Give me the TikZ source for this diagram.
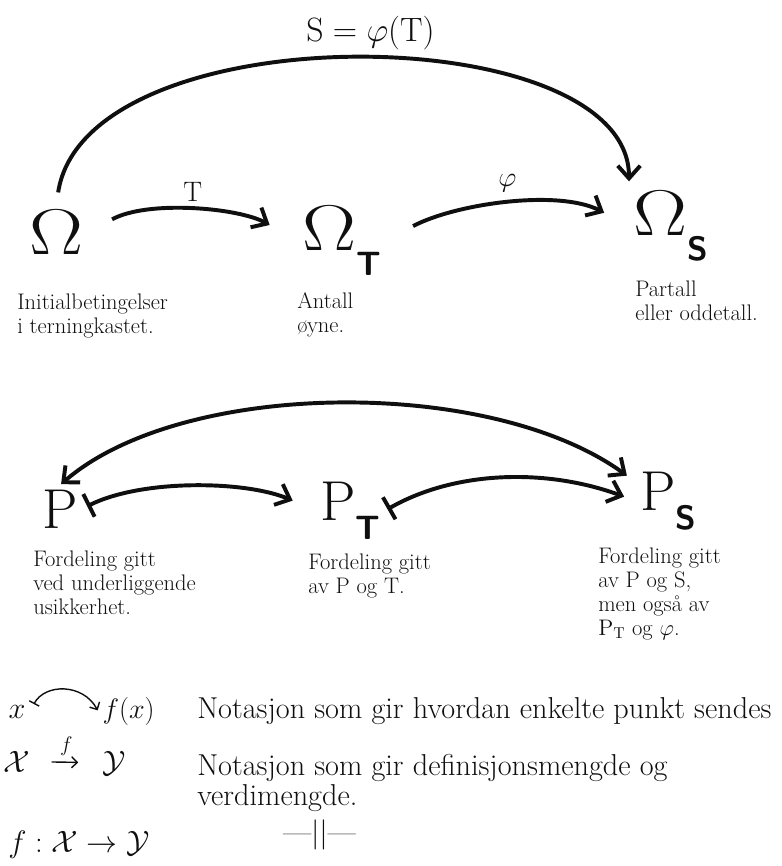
\RequirePackage{fix-cm}
\documentclass[tikz,border=0pt]{standalone}
\usepackage{amsmath}
\usepackage{graphicx}
\usepackage{xcolor}
\usepackage{tikz}
\usetikzlibrary{arrows.meta, positioning}
\definecolor{ink}{RGB}{15, 15, 15}
\newcommand{\lowsub}[2][18pt]{\lower#1\hbox{\fontsize{24}{24}\selectfont\sffamily\bfseries #2}}
\newcommand{\wideomega}{\scalebox{1.25}[1]{$\Omega$}}
\tikzstyle{bigsym} = [
    inner sep=3pt,
    text=ink,
    font=\fontsize{46}{46}\selectfont
]
\tikzstyle{probsym} = [
    inner sep=3pt,
    text=ink,
    font=\fontsize{40}{40}\selectfont
]
\tikzstyle{note} = [
    anchor=north west,
    inner sep=0pt,
    align=left,
    text=ink,
    font=\fontsize{16}{17}\selectfont
]
\tikzstyle{notation} = [
    inner sep=0pt,
    align=left,
    text=ink,
    font=\fontsize{21.5}{21.5}\selectfont
]
\tikzstyle{arclabel} = [
    text=ink,
    font=\fontsize{20}{20}\selectfont
]
\tikzstyle{arrow} = [
    line width=2.8pt,
    -{Straight Barb[length=9pt, width=16pt]},
    color=ink
]
\tikzstyle{bothways} = [
    line width=2.8pt,
    {Straight Barb[length=9pt, width=16pt]}-{Straight Barb[length=9pt, width=16pt]},
    color=ink
]
\tikzstyle{maparrow} = [
    line width=2.8pt,
    {Bar[width=18pt]}-{Straight Barb[length=9pt, width=16pt]},
    color=ink
]
\tikzstyle{thinarrow} = [
    line width=1pt,
    -{Straight Barb[length=4pt, width=8pt]},
    color=ink
]
\tikzstyle{thinmap} = [
    line width=1pt,
    {Bar[width=8pt]}-{Straight Barb[length=4pt, width=8pt]},
    color=ink
]
\begin{document}
\begin{tikzpicture}[x=0.025cm, y=-0.025cm]
        \useasboundingbox (0,0) rectangle (781,866);

        % Sample spaces
        \node[bigsym, anchor=base] (omega) at (56,255) {\wideomega};
        \node[bigsym, anchor=base west] (omegaT) at (298,250) {\wideomega\lowsub{T}};
        \node[bigsym, anchor=base west] (omegaS) at (629,235) {\wideomega\lowsub{S}};

        % Arrows
        \draw[arrow, shorten <=10pt, shorten >=4pt] (omega.north) .. controls +(30,-195) and +(0,-170) .. (omegaS.137)
            node[pos=0.52, above=2pt, arclabel, font=\fontsize{24}{24}\selectfont] {$\mathrm{S}=\varphi(\mathrm{T})$};
        \draw[arrow, shorten <=20pt, shorten >=23pt] (omega.east) .. controls +(60,-33) and +(-60,-33) .. (omegaT.west)
            node[midway, above=3pt, arclabel] {T};
        \draw[arrow, shorten <=22pt, shorten >=20pt] (omegaT.east) .. controls +(70,-37) and +(-70,-37) .. (omegaS.west)
            node[midway, above=5pt, arclabel] {$\varphi$};

        % Labels below
        \node[note] (initNote) at (17,294) {Initialbetingelser\\i terningkastet.};
        \node[note] (antallNote) at (297,292) {Antall\\øyne.};
        \node[note] (partallNote) at (635,281) {Partall\\eller oddetall.};

        % Distributions
        \node[probsym, anchor=base] (prob) at (60,528) {P};
        \node[probsym, anchor=base west] (probT) at (316,520) {P\lowsub[14pt]{T}};
        \node[probsym, anchor=base west] (probS) at (636,510) {P\lowsub[14pt]{S}};

        % Arrows
        \draw[bothways, shorten <=1pt, shorten >=8pt] (prob.north) .. controls +(122,-106) and +(-146,-106) .. (probS.150);
        \draw[maparrow, shorten <=4pt, shorten >=18pt] (prob.east) .. controls +(60,-30) and +(-70,-30) .. (probT.west);
        \draw[maparrow, shorten <=2pt, shorten >=9pt] (probT.east) .. controls +(70,-40) and +(-90,-33) .. (probS.west);

        % Labels below
        \node[note] (fordNote) at (33,551) {Fordeling gitt\\ved underliggende\\usikkerhet.};
        \node[note] (fordTNote) at (308,554) {Fordeling gitt\\av P og T.};
        \node[note] (fordSNote) at (598,548) {Fordeling gitt\\av P og S,\\men også av\\$\mathrm{P}_{\mathrm{T}}$ og $\varphi$.};

        % Notation
        \node[notation, inner sep=3pt, anchor=base] (xPt) at (17,718) {$x$};
        \node[notation, inner sep=3pt, anchor=base west, font=\fontsize{20}{20}\selectfont] (fxPt) at (98,718) {$f(x)$};
        \draw[thinmap, shorten <=6pt, shorten >=0.5pt] (xPt.east) .. controls +(15,-28) and +(-15,-28) .. (fxPt.west);
        \node[notation, anchor=base west] (row1) at (197,718) {Notasjon som gir hvordan enkelte punkt sendes};

        \node[notation, inner sep=3pt, anchor=base, font=\fontsize{22}{22}\selectfont] (setX) at (17,772) {$\mathcal{X}$};
        \node[notation, inner sep=3pt, anchor=base, font=\fontsize{22}{22}\selectfont] (setY) at (114,772) {$\mathcal{Y}$};
        \draw[thinarrow, shorten <=12pt, shorten >=14pt] (setX) -- node[above=1pt, arclabel, font=\fontsize{15}{15}\selectfont] {$f$} (setY);
        \node[notation, anchor=north west] (row2) at (197,754) {Notasjon som gir definisjonsmengde og\\verdimengde.};

        \node[notation, anchor=base west, font=\fontsize{22}{22}\selectfont] (row3) at (8,852) {$f:\mathcal{X}\to\mathcal{Y}$};
        \node[notation, anchor=base west] (ditto) at (283,842) {—||—};
    \end{tikzpicture}
\end{document}
